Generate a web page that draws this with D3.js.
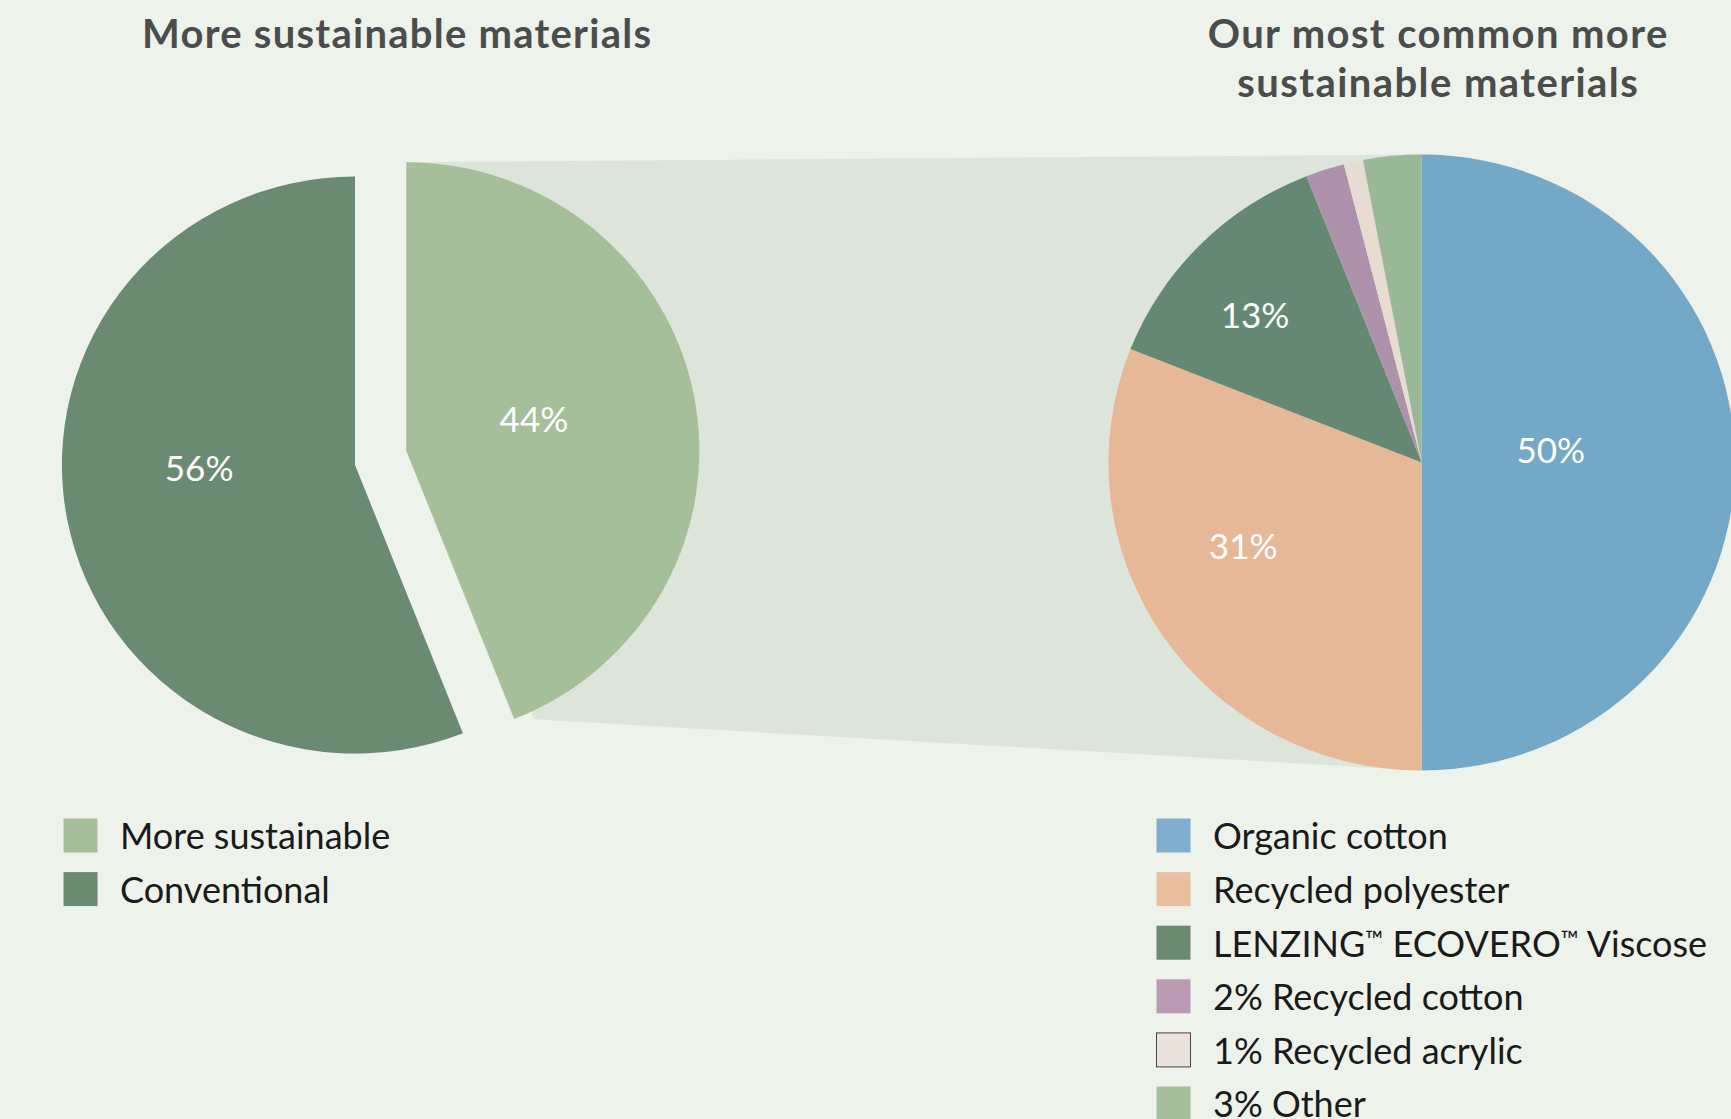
<!DOCTYPE html>
<html>
<head>
<meta charset="utf-8">
<script src="https://cdn.jsdelivr.net/npm/d3@7"></script>
<style>
  html, body { margin: 0; padding: 0; background: #edf2ea; }
  svg { display: block; }
  text { font-family: Lato, "Open Sans", sans-serif; }
</style>
</head>
<body>
<svg id="chart" width="1731" height="1119"></svg>
<script>
// ---- data ----
const shareNames = ["More sustainable", "Conventional"];
const shareValues = [44, 56];

const materialNames = ["Organic cotton", "Recycled polyester", "LENZING\u2122 ECOVERO\u2122 Viscose",
                       "Recycled cotton", "Recycled acrylic", "Other"];
const materialValues = [50, 31, 13, 2, 1, 3];

const leftTitle = ["More sustainable materials"];
const rightTitle = ["Our most common more", "sustainable materials"];

// ---- styles ----
const shareColors = ["#a5bf9b", "#6b8a72"];
const materialColors = ["#73a8c6", "#e6b897", "#648872", "#ae91ab", "#e6dcd2", "#99b898"];
const materialLegendColors = ["#81aecf", "#e8bf9f", "#6b8a72", "#bb9bb4", "#ebe2db", "#a5bf9b"];

// label placement inside slices: fraction of radius, fraction of the slice's angular span
const shareLabelPos = { "More sustainable": [0.449, 0.479], "Conventional": [0.532, 0.547] };
const materialLabelPos = { "Organic cotton": [0.414, 0.471], "Recycled polyester": [0.632, 0.577],
                           "LENZING\u2122 ECOVERO\u2122 Viscose": [0.716, 0.436] };
const insideLabelMin = 10; // smaller slices state their share in the legend instead

const svg = d3.select("#chart");
svg.append("rect").attr("width", 1731).attr("height", 1119).attr("fill", "#edf2ea");

const pie = d3.pie().sort(null).value(d => d.value);

// ---- left pie geometry ----
const L = { cx: 380.65, cy: 457.85, r: 288.5, sx: 1.016, explode: 26.6, explodeAngle: 74.5 * Math.PI / 180 };
// ---- right pie geometry ----
const R = { cx: 1421.7, cy: 462.5, r: 308, sx: 1.017 };

const shareData = pie(shareNames.map((n, i) => ({ name: n, value: shareValues[i], color: shareColors[i] })));
const matData = pie(materialNames.map((n, i) => ({ name: n, value: materialValues[i], color: materialColors[i] })));

const arcL = d3.arc().innerRadius(0).outerRadius(L.r);
const arcR = d3.arc().innerRadius(0).outerRadius(R.r);

// slice centre for the exploded left pie: highlighted slice pushed out, the other pulled back
function sliceCenter(i) {
  const s = i === 0 ? 1 : -1;
  return [L.cx + s * L.explode * Math.sin(L.explodeAngle), L.cy - s * L.explode * Math.cos(L.explodeAngle)];
}
function polar(c, sx, r, a) { return [c[0] + sx * r * Math.sin(a), c[1] - r * Math.cos(a)]; }

// ---- connector band between the highlighted slice and the breakdown pie ----
const hl = shareData[0];
const hc = sliceCenter(0);
const bandTopLeft = polar(hc, L.sx, L.r, hl.startAngle);
const bandBottomLeft = polar(hc, L.sx, L.r * 1.027, hl.endAngle - 3.4 * Math.PI / 180);
const bandTopRight = [R.cx, R.cy - R.r];
const bandBottomRight = [R.cx, R.cy + R.r];
svg.append("path")
  .attr("d", d3.line()([bandTopLeft, bandTopRight, bandBottomRight, bandBottomLeft]) + "Z")
  .attr("fill", "#dde5da");

// ---- left pie ----
const gL = svg.append("g");
shareData.forEach((d, i) => {
  const c = sliceCenter(i);
  gL.append("path")
    .attr("transform", `translate(${c[0]},${c[1]}) scale(${L.sx},1)`)
    .attr("d", arcL(d))
    .attr("fill", d.data.color);
  const p = shareLabelPos[d.data.name];
  const a = d.startAngle + (d.endAngle - d.startAngle) * p[1];
  const pt = polar(c, L.sx, L.r * p[0], a);
  gL.append("text")
    .attr("x", pt[0]).attr("y", pt[1] + 12.6)
    .attr("text-anchor", "middle")
    .attr("fill", "#ffffff")
    .attr("font-size", 35)
    .text(d.data.value + "%");
});

// ---- right pie ----
const gR = svg.append("g");
gR.selectAll("path").data(matData).join("path")
  .attr("transform", `translate(${R.cx},${R.cy}) scale(${R.sx},1)`)
  .attr("d", arcR)
  .attr("fill", d => d.data.color);
matData.filter(d => d.data.value >= insideLabelMin).forEach(d => {
  const p = materialLabelPos[d.data.name];
  const a = d.startAngle + (d.endAngle - d.startAngle) * p[1];
  const pt = polar([R.cx, R.cy], R.sx, R.r * p[0], a);
  gR.append("text")
    .attr("x", pt[0]).attr("y", pt[1] + 12.6)
    .attr("text-anchor", "middle")
    .attr("fill", "#ffffff")
    .attr("font-size", 35)
    .text(d.data.value + "%");
});

// ---- titles (spread to the heading's set width) ----
const titleStyle = sel => sel.attr("text-anchor", "middle").attr("fill", "#4b4d4c")
  .attr("font-size", 40).attr("font-weight", 700).attr("lengthAdjust", "spacing");
const leftTitleWidths = [509];
const rightTitleWidths = [459.5, 400.5];
leftTitle.forEach((t, i) => svg.append("text").call(titleStyle)
  .attr("x", 396.5).attr("y", 48.3 + i * 49.3).attr("textLength", leftTitleWidths[i]).text(t));
rightTitle.forEach((t, i) => svg.append("text").call(titleStyle)
  .attr("x", 1437.5).attr("y", 47.9 + i * 49.3).attr("textLength", rightTitleWidths[i]).text(t));

// ---- legends ----
// writes a label, setting any trademark sign as a small raised mark
const tmSize = 24, tmRise = 9;
function writeLabel(textSel, label) {
  const parts = label.split("\u2122");
  parts.forEach((part, j) => {
    if (part) textSel.append("tspan").attr("font-size", 36).attr("dy", j > 0 ? tmRise : null).text(part);
    if (j < parts.length - 1) {
      textSel.append("tspan").attr("font-size", tmSize).attr("dy", -tmRise).text("\u2122");
    }
  });
}
function legend(x, y, items) {
  const g = svg.append("g").attr("transform", `translate(${x},${y})`);
  const row = g.selectAll("g").data(items).join("g")
    .attr("transform", (d, i) => `translate(0,${i * 53.6})`);
  row.append("rect")
    .attr("x", 0.5).attr("y", 0.5).attr("width", 34).attr("height", 34)
    .attr("fill", d => d.color)
    .attr("stroke", d => d.outline ? "#444" : d.color)
    .attr("stroke-width", d => d.outline ? 1 : 0);
  row.append("text")
    .attr("x", 57).attr("y", 31.3)
    .attr("fill", "#1a1a1a")
    .attr("font-size", 36)
    .each(function (d) { writeLabel(d3.select(this), d.label); });
}
legend(63, 818, shareNames.map((n, i) => ({ label: n, color: shareColors[i] })));
legend(1156, 818, materialNames.map((n, i) => ({
  label: materialValues[i] < insideLabelMin ? `${materialValues[i]}% ${n}` : n,
  color: materialLegendColors[i],
  outline: n === "Recycled acrylic"
})));
</script>
</body>
</html>
